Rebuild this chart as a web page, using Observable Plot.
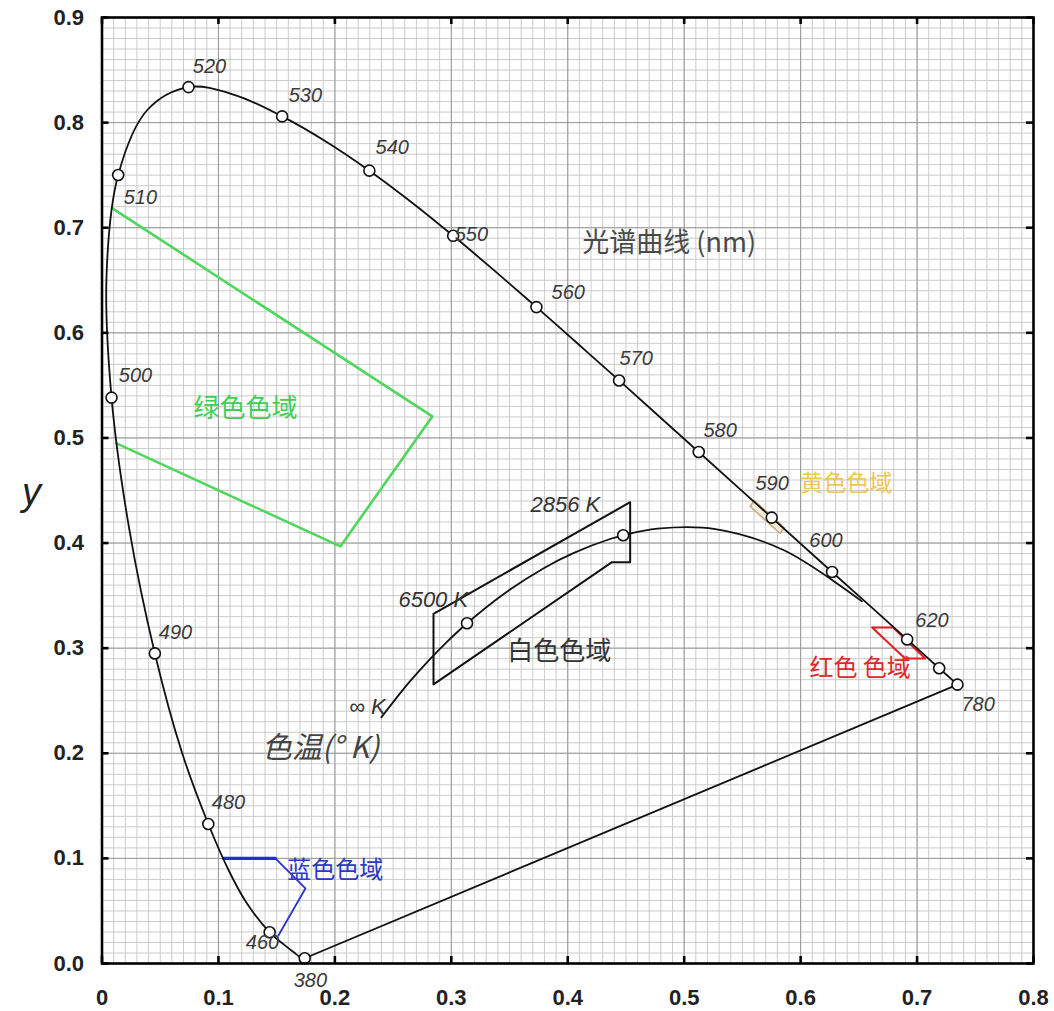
<!DOCTYPE html>
<html><head><meta charset="utf-8">
<script src="https://cdn.jsdelivr.net/npm/d3@7"></script>
<script src="https://cdn.jsdelivr.net/npm/@observablehq/plot@0.6"></script>
<style>body{margin:0;background:#fff} svg{display:block}</style>
</head><body><div id="chart"></div>
<script>
// ---- Data (CIE 1931 chromaticity diagram) ----
const locusNm = [380,400,420,440,450,460,470,475,480,485,490,495,500,505,510,515,520,525,530,535,540,545,550,555,560,565,570,575,580,585,590,595,600,605,610,620,630,640,650,700,780];
const locusX  = [0.1741,0.1733,0.1714,0.1644,0.1566,0.1440,0.1241,0.1096,0.0913,0.0687,0.0454,0.0235,0.0082,0.0039,0.0139,0.0389,0.0743,0.1142,0.1547,0.1929,0.2296,0.2658,0.3016,0.3373,0.3731,0.4087,0.4441,0.4788,0.5125,0.5448,0.5752,0.6029,0.6270,0.6482,0.6658,0.6915,0.7079,0.7190,0.7260,0.7347,0.7347];
const locusY  = [0.0050,0.0048,0.0051,0.0109,0.0177,0.0297,0.0578,0.0868,0.1327,0.2007,0.2950,0.4127,0.5384,0.6548,0.7502,0.8120,0.8338,0.8262,0.8059,0.7816,0.7543,0.7243,0.6923,0.6589,0.6245,0.5896,0.5547,0.5202,0.4866,0.4544,0.4242,0.3965,0.3725,0.3514,0.3340,0.3083,0.2920,0.2809,0.2740,0.2653,0.2653];
const markerNm = [380,460,480,490,500,510,520,530,540,550,560,570,580,590,600,620,640,780];

const labelNm = ["520","530","540","550","560","570","580","590","600","620","780","510","500","490","480","460","380"];
const labelX  = [0.0923,0.1747,0.2493,0.3172,0.4004,0.4588,0.5309,0.5755,0.6218,0.7128,0.7524,0.0330,0.0288,0.0631,0.1086,0.1378,0.1790];
const labelY  = [0.8535,0.8260,0.7764,0.6936,0.6384,0.5756,0.5071,0.4567,0.4025,0.3264,0.2464,0.7288,0.5595,0.3149,0.1532,0.0200,-0.0160];

const planckK = ["∞","20000","15000","10000","8000","6500","5000","4000","3500","3000","2856","2500","2000","1500","1000"];
const planckX = [0.2399,0.2565,0.2637,0.2807,0.2952,0.3135,0.3451,0.3805,0.4053,0.4369,0.4476,0.4770,0.5267,0.5857,0.6527];
const planckY = [0.2342,0.2577,0.2674,0.2884,0.3048,0.3237,0.3516,0.3768,0.3907,0.4041,0.4074,0.4137,0.4133,0.3931,0.3445];
const planckMarkers = ["6500","2856"];

const greenX = [0.0090,0.2837,0.2047,0.0125];
const greenY = [0.7184,0.5205,0.3968,0.4948];
const blueX  = [0.1043,0.1489,0.1747,0.1515];
const blueY  = [0.1000,0.1000,0.0714,0.0266];
const redX   = [0.6614,0.6794,0.7069,0.6897,0.6614];
const redY   = [0.3197,0.3197,0.2902,0.2902,0.3197];
const yellowX= [0.5567,0.5601,0.5858,0.5824,0.5567];
const yellowY= [0.4348,0.4405,0.4148,0.4091,0.4348];
const whiteX = [0.2847,0.2847,0.4380,0.4536,0.4536,0.2847];
const whiteY = [0.3327,0.2655,0.3818,0.3818,0.4389,0.3327];

const annoText = ["光谱曲线 (nm)","绿色色域","蓝色色域","黄色色域","红色 色域","白色色域","2856 K","6500 K","∞ K","色温(° K)"];
const annoX    = [0.4871,0.1232,0.2004,0.6391,0.6511,0.3927,0.3979,0.2845,0.2279,0.1876];
const annoY    = [0.6850,0.5280,0.0885,0.4567,0.2807,0.2969,0.4358,0.3463,0.2445,0.2046];

const xMajor = [0,0.1,0.2,0.3,0.4,0.5,0.6,0.7,0.8];
const yMajor = [0,0.1,0.2,0.3,0.4,0.5,0.6,0.7,0.8,0.9];
const xMinor = d3.range(0, 81).map(i => i / 100);
const yMinor = d3.range(0, 91).map(i => i / 100);

// ---- Build tables ----
const zip = (xs, ys) => xs.map((x, i) => ({x, y: ys[i]}));
const locus = locusNm.map((nm, i) => ({nm, x: locusX[i], y: locusY[i]}));
const markers = locus.filter(d => markerNm.includes(d.nm));
const labels = labelNm.map((t, i) => ({t, x: labelX[i], y: labelY[i]}));
const planck = planckK.map((k, i) => ({k, x: planckX[i], y: planckY[i]}));
const planckDots = planck.filter(d => planckMarkers.includes(d.k));
const purple = [locus[0], locus[locus.length - 1]];
const anno = annoText.map((t, i) => ({t, x: annoX[i], y: annoY[i]}));

const W = 1054, H = 1011, mL = 101.5, mR = 21, mT = 17, mB = 48;
const innerW = W - mL - mR, innerH = H - mT - mB, tickLen = 7;
const sans = "Liberation Sans, Arial, Noto Sans CJK SC, sans-serif";
const cjk = "Noto Sans CJK SC, Liberation Sans, sans-serif";
const fmtX = d => d === 0 ? "0" : d.toFixed(1);
const fmtY = d => d.toFixed(1);

const chart = Plot.plot({
  width: W, height: H,
  marginLeft: mL, marginRight: mR, marginTop: mT, marginBottom: mB,
  x: {domain: [0, 0.8], axis: null},
  y: {domain: [0, 0.9], axis: null},
  style: {fontFamily: sans, background: "#fff", overflow: "visible"},
  marks: [
    Plot.ruleX(xMinor, {x: d => d, stroke: "#cbcbcb", strokeWidth: 1}),
    Plot.ruleY(yMinor, {y: d => d, stroke: "#cbcbcb", strokeWidth: 1}),
    Plot.ruleX(xMajor, {x: d => d, stroke: "#999", strokeWidth: 1}),
    Plot.ruleY(yMajor, {y: d => d, stroke: "#999", strokeWidth: 1}),
    // gamuts
    Plot.line(zip(greenX, greenY), {x: "x", y: "y", stroke: "#4fd65c", strokeWidth: 2.6}),
    Plot.line(zip(blueX, blueY), {x: "x", y: "y", stroke: "#2a34c8", strokeWidth: 1.8}),
    Plot.line(zip(blueX, blueY).slice(0, 2), {x: "x", y: "y", stroke: "#1f2fd0", strokeWidth: 3.2}),
    Plot.line(zip(redX, redY), {x: "x", y: "y", stroke: "#e31e1e", strokeWidth: 2}),
    Plot.line(zip(yellowX, yellowY), {x: "x", y: "y", stroke: "#c9a878", strokeWidth: 1.5, fill: "#f3ead8"}),
    Plot.line(zip(whiteX, whiteY), {x: "x", y: "y", stroke: "#111", strokeWidth: 2}),
    // loci
    Plot.line(purple, {x: "x", y: "y", stroke: "#111", strokeWidth: 1.8}),
    Plot.line(locus, {x: "x", y: "y", stroke: "#111", strokeWidth: 1.8, curve: "catmull-rom"}),
    Plot.line(planck, {x: "x", y: "y", stroke: "#111", strokeWidth: 1.8, curve: "catmull-rom"}),
    Plot.dot(markers, {x: "x", y: "y", r: 5.5, fill: "white", stroke: "#111", strokeWidth: 1.6}),
    Plot.dot(planckDots, {x: "x", y: "y", r: 5.5, fill: "white", stroke: "#111", strokeWidth: 1.6}),
    // wavelength labels
    Plot.text(labels, {x: "x", y: "y", text: "t", fontSize: 20, fontStyle: "italic", fill: "#3a3a3a", fontFamily: sans}),
    // annotations
    Plot.text(anno.slice(0, 1), {x: "x", y: "y", text: "t", fontSize: 27, fill: "#4a4a4a", fontFamily: cjk}),
    Plot.text(anno.slice(1, 2), {x: "x", y: "y", text: "t", fontSize: 26, fill: "#3fcf55", fontFamily: cjk}),
    Plot.text(anno.slice(2, 3), {x: "x", y: "y", text: "t", fontSize: 24, fill: "#2b39c4", fontFamily: cjk}),
    Plot.text(anno.slice(3, 4), {x: "x", y: "y", text: "t", fontSize: 23, fill: "#f0c656", fontFamily: cjk}),
    Plot.text(anno.slice(4, 5), {x: "x", y: "y", text: "t", fontSize: 24, fill: "#e3262a", fontFamily: cjk}),
    Plot.text(anno.slice(5, 6), {x: "x", y: "y", text: "t", fontSize: 26, fill: "#333", fontFamily: cjk}),
    Plot.text(anno.slice(6, 9), {x: "x", y: "y", text: "t", fontSize: 22, fontStyle: "italic", fill: "#333", fontFamily: sans}),
    Plot.text(anno.slice(9, 10), {x: "x", y: "y", text: "t", fontSize: 30, fontStyle: "italic", fill: "#444", fontFamily: cjk}),
    // frame and inward ticks
    Plot.frame({stroke: "#000", strokeWidth: 2.6}),
    Plot.tickX(xMajor, {x: d => d, insetTop: innerH - tickLen, stroke: "#000", strokeWidth: 2.6}),
    Plot.tickX(xMajor, {x: d => d, insetBottom: innerH - tickLen, stroke: "#000", strokeWidth: 2.6}),
    Plot.tickY(yMajor, {y: d => d, insetRight: innerW - tickLen, stroke: "#000", strokeWidth: 2.6}),
    Plot.tickY(yMajor, {y: d => d, insetLeft: innerW - tickLen, stroke: "#000", strokeWidth: 2.6}),
    // axes labels
    Plot.axisX({ticks: xMajor, tickSize: 0, tickPadding: 26, tickFormat: fmtX, fontSize: 22, fontWeight: "bold", fill: "#222", label: null}),
    Plot.axisY({ticks: yMajor, tickSize: 0, tickPadding: 18, tickFormat: fmtY, fontSize: 22, fontWeight: "bold", fill: "#222", label: null}),
    Plot.text(["y"], {frameAnchor: "left", dx: -80, dy: 2, text: d => d, fontSize: 38, fontStyle: "italic", fill: "#222", fontFamily: sans})
  ]
});
document.getElementById("chart").appendChild(chart);
</script>
</body></html>
